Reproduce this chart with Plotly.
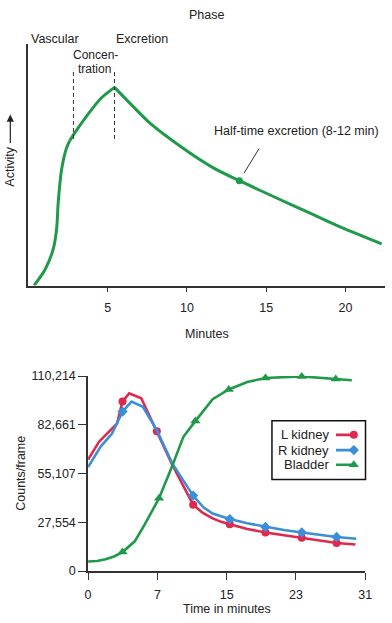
import plotly.graph_objects as go

W, H = 392, 623
FONT = "Liberation Sans, Arial, Helvetica, sans-serif"
TXT = "#222222"
AX = "#333333"
GREEN = "#1f9a4a"
RED = "#e0284f"
BLUE = "#3a8fd6"

# ---------------- top chart data ----------------
act_minutes = [0.35, 1.06, 1.58, 1.78, 1.88, 2.09, 2.39, 2.6, 2.87, 3.73, 4.55, 5.43,
               6.6, 7.63, 9.67, 11.73, 13.31, 15.83, 17.88, 19.93, 22.29]
act_level = [0.0, 0.068, 0.155, 0.236, 0.345, 0.48, 0.568, 0.600, 0.628, 0.708, 0.775, 0.822,
             0.743, 0.676, 0.574, 0.486, 0.435, 0.358, 0.297, 0.236, 0.173]
act_corners = [7, 11]          # indices where the curve has a kink
phase_bounds = [2.84, 5.43]    # dashed phase separators (minutes)
phase_bound_levels = [0.608, 0.899]
half_time_minute = [13.31]
half_time_level = [0.435]
top_ticks = [5, 10, 15, 20]
top_tick_text = ["5", "10", "15", "20"]

# ---------------- bottom chart data ----------------
L_t = [0, 1.23, 2.32, 3.23, 3.85, 4.6, 5.95, 7.69, 9.4, 11.75, 12.8, 13.93, 14.9, 15.85,
       17.8, 19.84, 21.9, 23.9, 25.9, 27.8, 29.9]
L_v = [63000, 73100, 78640, 83240, 95800, 100400, 97650, 79000, 60200, 37480, 33000, 29740,
       27800, 26400, 23800, 21780, 20200, 18830, 17300, 15880, 14950]
L_mark_t = [3.85, 7.69, 11.75, 15.85, 19.84, 23.9, 27.8]
L_mark_v = [95800, 79000, 37480, 26400, 21780, 18830, 15880]

R_t = [0, 1.41, 2.68, 3.85, 4.86, 6.13, 7.7, 9.4, 11.75, 12.9, 13.93, 14.9, 15.85,
       17.8, 19.84, 21.9, 23.9, 25.9, 27.8, 30.0]
R_v = [58800, 70330, 77700, 90100, 95800, 92860, 79500, 61000, 42640, 36000, 32500, 30700,
       29350, 27000, 24920, 23200, 21780, 20400, 19200, 18270]
R_mark_t = [3.85, 11.75, 15.85, 19.84, 23.9, 27.8]
R_mark_v = [90100, 42640, 29350, 24920, 21780, 19200]

B_t = [0, 1.0, 1.96, 2.9, 3.85, 5.22, 6.31, 7.94, 9.4, 10.66, 12.0, 13.93, 15.74,
       17.8, 19.84, 23.9, 27.7, 29.5]
B_v = [5350, 5700, 6650, 8200, 10700, 16800, 26030, 41150, 59260, 75870, 84730, 97080,
       102600, 106800, 109100, 110000, 108500, 107800]
B_mark_t = [3.85, 7.94, 12.0, 15.74, 19.84, 23.9, 27.7]
B_mark_v = [10700, 41150, 84730, 102600, 109100, 110000, 108500]

bottom_x_ticks = [0, 7.75, 15.5, 23.25, 31]
bottom_x_text = ["0", "7", "15", "23", "31"]
bottom_y_ticks = [0, 27553.5, 55107, 82660.5, 110214]
bottom_y_text = ["0", "27,554", "55,107", "82,661", "110,214"]

series_names = ["L kidney", "R kidney", "Bladder"]
series_colors = [RED, BLUE, GREEN]
series_symbols = ["circle", "diamond", "triangle-up"]
series_sizes = [8, 8, 9]


def px(x, y):
    return x / W, 1 - y / H


fig = go.Figure()

# top curve, drawn in smooth pieces between the kinks
cuts = [0] + act_corners + [len(act_minutes) - 1]
for a, b in zip(cuts[:-1], cuts[1:]):
    fig.add_trace(go.Scatter(
        x=act_minutes[a:b + 1], y=act_level[a:b + 1], mode="lines",
        line=dict(color=GREEN, width=3, shape="spline", smoothing=0.8),
        xaxis="x", yaxis="y", showlegend=False, hoverinfo="skip"))
fig.add_trace(go.Scatter(
    x=half_time_minute, y=half_time_level, mode="markers",
    marker=dict(color=GREEN, size=7), xaxis="x", yaxis="y", showlegend=False))

# bottom series
lines = [(L_t, L_v, L_mark_t, L_mark_v), (R_t, R_v, R_mark_t, R_mark_v),
         (B_t, B_v, B_mark_t, B_mark_v)]
for i, (t, v, mt, mv) in enumerate(lines):
    fig.add_trace(go.Scatter(
        x=t, y=v, mode="lines", line=dict(color=series_colors[i], width=2.6),
        xaxis="x2", yaxis="y2", showlegend=False, cliponaxis=False))
    fig.add_trace(go.Scatter(
        x=mt, y=mv, mode="markers",
        marker=dict(color=series_colors[i], size=series_sizes[i], symbol=series_symbols[i]),
        xaxis="x2", yaxis="y2", showlegend=False, cliponaxis=False))

# custom legend samples (line then marker, as in the original)
legend_rows = [0.76, 0.5, 0.25]
for i, row in enumerate(legend_rows):
    fig.add_trace(go.Scatter(
        x=[0.684, 0.875], y=[row, row], mode="lines",
        line=dict(color=series_colors[i], width=2.6),
        xaxis="x3", yaxis="y3", showlegend=False, hoverinfo="skip"))
    fig.add_trace(go.Scatter(
        x=[0.875], y=[row], mode="markers",
        marker=dict(color=series_colors[i], size=series_sizes[i], symbol=series_symbols[i]),
        xaxis="x3", yaxis="y3", showlegend=False, hoverinfo="skip", cliponaxis=False))

shapes = []
# dashed phase separators
for b in phase_bounds:
    shapes.append(dict(type="line", xref="x", yref="y", x0=b, x1=b,
                       y0=phase_bound_levels[0], y1=phase_bound_levels[1],
                       line=dict(color=AX, width=1, dash="4px,3px")))
# leader line for half-time label
shapes.append(dict(type="line", xref="paper", yref="paper",
                   x0=px(262.7, 145)[0], y0=px(262.7, 145)[1],
                   x1=px(247.3, 170)[0], y1=px(247.3, 170)[1],
                   line=dict(color=AX, width=1)))
# legend box
shapes.append(dict(type="rect", xref="paper", yref="paper",
                   x0=276 / W, x1=372 / W, y0=1 - 483.3 / H, y1=1 - 423.3 / H,
                   line=dict(color="#111111", width=1.5), fillcolor="rgba(0,0,0,0)"))

ann = []


def text(x, y, s, size=12.5, xanchor="center", angle=0):
    xp, yp = px(x, y)
    ann.append(dict(x=xp, y=yp, xref="paper", yref="paper", text=s, showarrow=False,
                    xanchor=xanchor, yanchor="middle", textangle=angle, borderpad=0,
                    font=dict(family=FONT, size=size, color=TXT)))


text(209, 8, "Phase")
text(27.5, 32.7, "Vascular", xanchor="left")
text(114.5, 32.7, "Excretion", xanchor="left")
text(94.5, 49.5, "Concen-", size=12)
text(94, 63.5, "tration", size=12)
text(215.5, 127.3, "Half-time excretion (8-12 min)", xanchor="left")
text(209, 335, "Minutes")
text(7.5, 163, "Activity", angle=-90)
text(229.5, 616, "Time in minutes")
text(18.5, 477.5, "Counts/frame", angle=-90)
for i, row in enumerate([437.7, 453.3, 468.3]):
    text(336, row, series_names[i], size=13, xanchor="right")

# arrow next to "Activity"
hx, hy = px(7.5, 110)
ann.append(dict(x=hx, y=hy, xref="paper", yref="paper", ax=0, ay=30, text="",
                showarrow=True, arrowhead=2, arrowsize=1.2, arrowwidth=1.2,
                arrowcolor=TXT))

axis_common = dict(showgrid=False, zeroline=False, showline=True, linecolor=AX,
                   linewidth=1.5, tickcolor=AX, tickfont=dict(family=FONT, size=12.5, color=TXT))

fig.update_layout(
    width=W, height=H, autosize=False,
    margin=dict(l=0, r=0, t=0, b=0),
    paper_bgcolor="white", plot_bgcolor="white",
    showlegend=False,
    xaxis=dict(domain=[26.1 / W, 1.0], range=[0, 22.5], tickvals=top_ticks,
               ticktext=top_tick_text, ticks="outside", ticklen=5, tickwidth=1,
               ticklabelstandoff=5, anchor="y", **axis_common),
    yaxis=dict(domain=[1 - 285 / H, 1 - 38.3 / H], range=[0, 1], showticklabels=False,
               ticks="", anchor="x", **axis_common),
    xaxis2=dict(domain=[87.3 / W, 371.7 / W], range=[0, 31], tickvals=bottom_x_ticks,
                ticktext=bottom_x_text, ticks="outside", ticklen=7, tickwidth=1,
                ticklabelstandoff=4, anchor="y2", **axis_common),
    yaxis2=dict(domain=[1 - 577 / H, 1 - 377.5 / H], range=[0, 110214],
                tickvals=bottom_y_ticks, ticktext=bottom_y_text, ticks="outside",
                ticklen=8, tickwidth=1, anchor="x2", **axis_common),
    xaxis3=dict(domain=[276 / W, 372 / W], range=[0, 1], visible=False, anchor="y3"),
    yaxis3=dict(domain=[1 - 483.3 / H, 1 - 423.3 / H], range=[0, 1], visible=False,
                anchor="x3"),
    shapes=shapes,
    annotations=ann,
)

fig.write_html("out.html", config={"displayModeBar": False},
               post_script="document.body.style.margin='0';")
